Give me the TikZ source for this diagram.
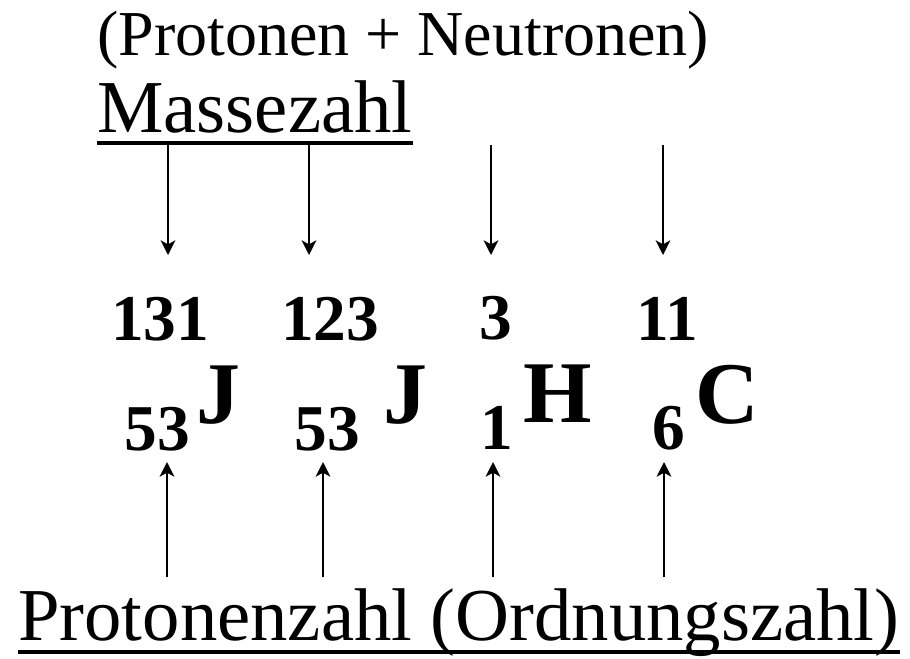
\documentclass[tikz,border=0pt]{standalone}
\usepackage{fontspec}
\setmainfont{Liberation Serif}
\usetikzlibrary{arrows.meta}

\begin{document}
\begin{tikzpicture}[x=0.75pt,y=-0.75pt,
  zahl/.style={font=\fontsize{49}{49}\selectfont\bfseries, inner sep=0pt, anchor=base},
  symbol/.style={font=\fontsize{66}{66}\selectfont\bfseries, inner sep=0pt, anchor=base west},
  titel/.style={inner sep=0pt, anchor=base west},
  pfeil/.style={line width=1.5pt, -{Stealth[length=11pt,width=11pt,inset=3pt]}},
  strich/.style={line width=3pt}]
  \useasboundingbox (0,0) rectangle (910,658);

  % Ueberschriften oben
  \node[titel, font=\fontsize{48}{48}\selectfont] (nukl) at (97,55) {(Protonen + Neutronen)};
  \node[titel, font=\fontsize{56}{56}\selectfont] (mz) at (97,132) {Massezahl};
  \draw[strich] ([yshift=-8pt]mz.base west) -- ([yshift=-8pt]mz.base east);

  % Massezahlen
  \node[zahl] (m131) at (160,340) {131};
  \node[zahl] (m123) at (330,340) {123};
  \node[zahl] (m3)   at (496,339) {3};
  \node[zahl] (m11)  at (667,340) {11};

  % Elementsymbole
  \node[symbol] (jod1) at (196,423) {J};
  \node[symbol] (jod2) at (383,423) {J};
  \node[symbol] (wass) at (523,422) {H};
  \node[symbol] (kohl) at (695,423) {C};

  % Ordnungszahlen
  \node[zahl] (z53a) at (157,450) {53};
  \node[zahl] (z53b) at (327,450) {53};
  \node[zahl] (z1)   at (497,449) {1};
  \node[zahl] (z6)   at (669,449) {6};

  % Beschriftung unten
  \node[titel, font=\fontsize{56}{56}\selectfont] (pz) at (18,640) {Protonenzahl (Ordnungszahl)};
  \draw[strich] ([yshift=-9pt]pz.base west) -- ([yshift=-9pt]pz.base east);

  % Pfeile von oben zur Massezahl
  \foreach \i/\x in {1/168,2/309,3/491,4/663}{
    \coordinate (oben\i) at (\x,145);
    \coordinate (spitzeo\i) at (\x,255);
    \draw[pfeil] (oben\i) -- (spitzeo\i);
  }

  % Pfeile von unten zur Ordnungszahl
  \foreach \i/\x in {1/167,2/323,3/493,4/664}{
    \coordinate (unten\i) at (\x,577);
    \coordinate (spitzeu\i) at (\x,462);
    \draw[pfeil] (unten\i) -- (spitzeu\i);
  }
\end{tikzpicture}
\end{document}
